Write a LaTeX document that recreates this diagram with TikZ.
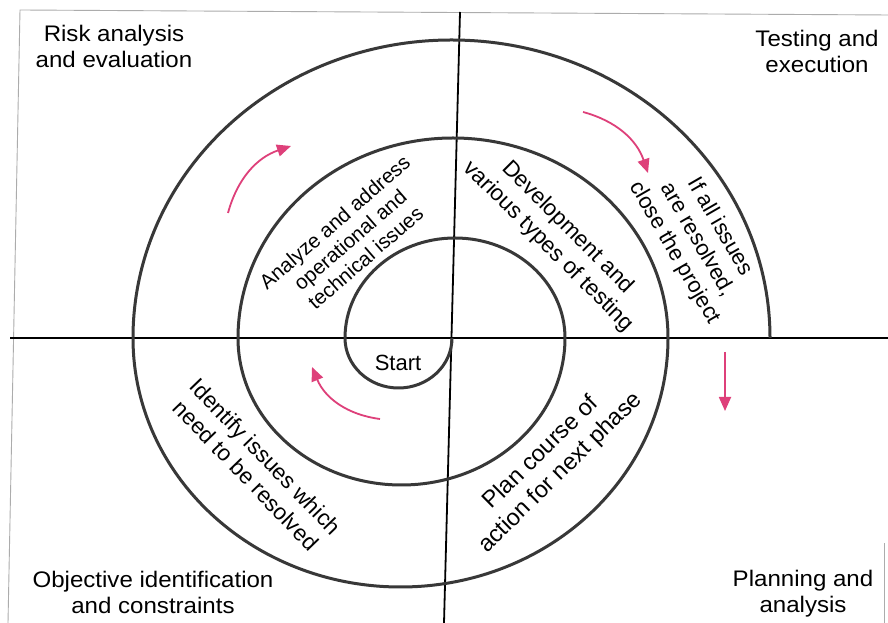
\documentclass[tikz,border=0pt]{standalone}
\usepackage{fontspec}
\setmainfont{Liberation Sans}
\usetikzlibrary{arrows.meta}
\definecolor{spiralgray}{RGB}{56,56,56}
\definecolor{flowpink}{RGB}{222,64,122}
\begin{document}
\begin{tikzpicture}[x=1pt,y=1pt,
  frameline/.style={gray!65, line width=0.9pt},
  axis/.style={black, line width=1.8pt},
  spiral/.style={spiralgray, line width=3pt},
  flow/.style={flowpink, line width=1.8pt, -{Triangle[length=14pt,width=12pt]}},
  corner/.style={align=center, inner sep=0pt, font=\fontsize{22.5}{26}\selectfont, xscale=1.07},
  ring/.style={align=center, inner sep=0pt},
]
\useasboundingbox (0,0) rectangle (888,623);
\fill[white] (0,0) rectangle (888,623);

% outer frame
\coordinate (frameTL) at (20,613);
\coordinate (frameBL) at (8,0);
\coordinate (frameTR) at (888,608);
\coordinate (frameRa) at (884,0);
\coordinate (frameRb) at (884,80);
\draw[frameline] (frameBL) -- (frameTL) -- (frameTR);
\draw[frameline] (frameRa) -- (frameRb);

% quadrant axes
\coordinate (axisN) at (460,611);
\coordinate (axisS) at (444,0);
\coordinate (axisW) at (10,285);
\coordinate (axisE) at (888,285);
\draw[axis] (axisN) -- (axisS);
\draw[axis] (axisW) -- (axisE);

% the spiral, grown from the centre by half-ellipses
\coordinate (centre) at (452,285);
\draw[spiral] (centre)
  arc[start angle=0,   end angle=-180, x radius=53.5,  y radius=50]
  arc[start angle=180, end angle=0,    x radius=110,   y radius=100]
  arc[start angle=0,   end angle=-180, x radius=163.5, y radius=147]
  arc[start angle=180, end angle=0,    x radius=215,   y radius=200]
  arc[start angle=0,   end angle=-180, x radius=267.5, y radius=249]
  arc[start angle=180, end angle=0,    x radius=318.5, y radius=298];

% direction arrows
\coordinate (f1s) at (228,410); \coordinate (f1e) at (291,477);
\coordinate (f2s) at (583,511); \coordinate (f2e) at (648,450);
\coordinate (f3s) at (725,271); \coordinate (f3e) at (725,212);
\coordinate (f4s) at (380,204); \coordinate (f4e) at (312,256);
\draw[flow] (f1s) to[bend left=28] (f1e);
\draw[flow] (f2s) to[bend left=28] (f2e);
\draw[flow] (f3s) -- (f3e);
\draw[flow] (f4s) to[bend left=30] (f4e);

% quadrant titles
\node[corner] (risk) at (114,577) {Risk analysis\\and evaluation};
\node[corner] (test) at (817,572) {Testing and\\execution};
\node[corner] (obj)  at (153,31)  {Objective identification\\and constraints};
\node[corner] (plan) at (803,29)  {Planning and\\analysis};

% texts along the rings
\node[ring, font=\fontsize{22}{24}\selectfont] (start) at (398,260) {Start};
\node[ring, rotate=41, font=\fontsize{20.5}{23.5}\selectfont]
  (analyze) at (350,383) {Analyze and address\\operational and\\technical issues};
\node[ring, rotate=-45, font=\fontsize{22.5}{27}\selectfont]
  (develop) at (558,386) {Development and\\various types of testing};
\node[ring, rotate=-60, font=\fontsize{22}{26}\selectfont]
  (close) at (697,383) {If all issues\\are resolved,\\close the project};
\node[ring, rotate=-46, font=\fontsize{22.5}{27}\selectfont]
  (identify) at (256,157) {Identify issues which\\need to be resolved};
\node[ring, rotate=44.5, font=\fontsize{23.5}{28}\selectfont]
  (course) at (551,160) {Plan course of\\action for next phase};
\end{tikzpicture}
\end{document}
